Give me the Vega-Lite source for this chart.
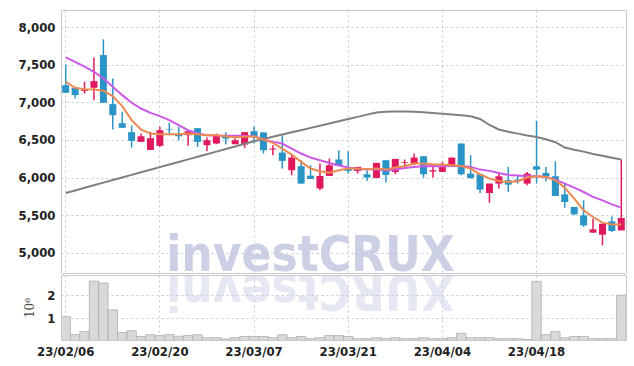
{
  "$schema": "https://vega.github.io/schema/vega-lite/v6.json",
  "padding": {"left": 17, "top": 9, "right": 8, "bottom": 5},
  "config": {
    "view": {"stroke": "#c8c8c8", "strokeWidth": 1},
    "concat": {"spacing": 0},
    "axis": {
      "labelFont": "DejaVu Sans Condensed",
      "labelFontWeight": "bold",
      "labelFontSize": 13,
      "labelColor": "#222222",
      "ticks": false,
      "domain": false,
      "gridColor": "#c3c7da",
      "gridDash": [2, 3],
      "gridWidth": 1
    }
  },
  "data": {
    "values": [
      {"d": "23/02/06", "o": 7230, "h": 7507, "l": 7128, "c": 7128, "m5": 7275, "m20": 7599, "m60": 5795, "v": 1.08},
      {"d": "23/02/07", "o": 7195, "h": 7200, "l": 7053, "c": 7097, "m5": 7195, "m20": 7541, "m60": 5829, "v": 0.31},
      {"d": "23/02/08", "o": 7155, "h": 7275, "l": 7119, "c": 7177, "m5": 7177, "m20": 7475, "m60": 5864, "v": 0.44},
      {"d": "23/02/09", "o": 7195, "h": 7599, "l": 7030, "c": 7284, "m5": 7173, "m20": 7408, "m60": 5898, "v": 2.6},
      {"d": "23/02/10", "o": 7630, "h": 7839, "l": 6995, "c": 6995, "m5": 7155, "m20": 7319, "m60": 5933, "v": 2.52},
      {"d": "23/02/13", "o": 6977, "h": 7319, "l": 6639, "c": 6830, "m5": 7084, "m20": 7208, "m60": 5967, "v": 1.37},
      {"d": "23/02/14", "o": 6724, "h": 6875, "l": 6662, "c": 6662, "m5": 6950, "m20": 7097, "m60": 6001, "v": 0.4},
      {"d": "23/02/15", "o": 6604, "h": 6693, "l": 6399, "c": 6488, "m5": 6764, "m20": 6995, "m60": 6036, "v": 0.48},
      {"d": "23/02/16", "o": 6475, "h": 6586, "l": 6475, "c": 6550, "m5": 6639, "m20": 6919, "m60": 6070, "v": 0.23},
      {"d": "23/02/17", "o": 6368, "h": 6608, "l": 6368, "c": 6524, "m5": 6586, "m20": 6861, "m60": 6105, "v": 0.31},
      {"d": "23/02/20", "o": 6422, "h": 6675, "l": 6408, "c": 6630, "m5": 6577, "m20": 6817, "m60": 6139, "v": 0.27},
      {"d": "23/02/21", "o": 6648, "h": 6728, "l": 6564, "c": 6640, "m5": 6577, "m20": 6764, "m60": 6173, "v": 0.31},
      {"d": "23/02/22", "o": 6577, "h": 6675, "l": 6497, "c": 6550, "m5": 6577, "m20": 6697, "m60": 6208, "v": 0.24},
      {"d": "23/02/23", "o": 6564, "h": 6617, "l": 6422, "c": 6617, "m5": 6586, "m20": 6630, "m60": 6242, "v": 0.27},
      {"d": "23/02/24", "o": 6657, "h": 6657, "l": 6408, "c": 6475, "m5": 6577, "m20": 6586, "m60": 6277, "v": 0.31},
      {"d": "23/02/27", "o": 6430, "h": 6533, "l": 6350, "c": 6497, "m5": 6564, "m20": 6564, "m60": 6311, "v": 0.18},
      {"d": "23/02/28", "o": 6453, "h": 6586, "l": 6444, "c": 6555, "m5": 6564, "m20": 6560, "m60": 6345, "v": 0.18},
      {"d": "23/03/02", "o": 6564, "h": 6604, "l": 6444, "c": 6519, "m5": 6550, "m20": 6558, "m60": 6380, "v": 0.13},
      {"d": "23/03/03", "o": 6444, "h": 6519, "l": 6444, "c": 6497, "m5": 6533, "m20": 6556, "m60": 6414, "v": 0.18},
      {"d": "23/03/06", "o": 6439, "h": 6604, "l": 6395, "c": 6604, "m5": 6542, "m20": 6553, "m60": 6449, "v": 0.23},
      {"d": "23/03/07", "o": 6617, "h": 6675, "l": 6453, "c": 6538, "m5": 6548, "m20": 6551, "m60": 6483, "v": 0.23},
      {"d": "23/03/08", "o": 6600, "h": 6600, "l": 6320, "c": 6364, "m5": 6506, "m20": 6506, "m60": 6513, "v": 0.23},
      {"d": "23/03/09", "o": 6373, "h": 6431, "l": 6297, "c": 6386, "m5": 6462, "m20": 6475, "m60": 6543, "v": 0.18},
      {"d": "23/03/10", "o": 6333, "h": 6564, "l": 6120, "c": 6222, "m5": 6386, "m20": 6453, "m60": 6572, "v": 0.31},
      {"d": "23/03/13", "o": 6097, "h": 6297, "l": 6031, "c": 6266, "m5": 6306, "m20": 6386, "m60": 6602, "v": 0.18},
      {"d": "23/03/14", "o": 6151, "h": 6231, "l": 5920, "c": 5920, "m5": 6209, "m20": 6320, "m60": 6631, "v": 0.23},
      {"d": "23/03/15", "o": 6026, "h": 6164, "l": 5982, "c": 5982, "m5": 6120, "m20": 6266, "m60": 6661, "v": 0.14},
      {"d": "23/03/16", "o": 5853, "h": 6186, "l": 5831, "c": 6022, "m5": 6084, "m20": 6231, "m60": 6690, "v": 0.18},
      {"d": "23/03/17", "o": 6022, "h": 6253, "l": 6022, "c": 6164, "m5": 6066, "m20": 6195, "m60": 6720, "v": 0.27},
      {"d": "23/03/20", "o": 6240, "h": 6364, "l": 6155, "c": 6155, "m5": 6097, "m20": 6160, "m60": 6749, "v": 0.27},
      {"d": "23/03/21", "o": 6120, "h": 6351, "l": 6053, "c": 6089, "m5": 6120, "m20": 6133, "m60": 6779, "v": 0.23},
      {"d": "23/03/22", "o": 6089, "h": 6142, "l": 6053, "c": 6142, "m5": 6120, "m20": 6115, "m60": 6808, "v": 0.14},
      {"d": "23/03/23", "o": 6044, "h": 6097, "l": 5955, "c": 6000, "m5": 6111, "m20": 6111, "m60": 6838, "v": 0.14},
      {"d": "23/03/24", "o": 5995, "h": 6195, "l": 5995, "c": 6195, "m5": 6120, "m20": 6106, "m60": 6867, "v": 0.18},
      {"d": "23/03/27", "o": 6231, "h": 6231, "l": 5933, "c": 6035, "m5": 6106, "m20": 6097, "m60": 6875, "v": 0.14},
      {"d": "23/03/28", "o": 6075, "h": 6248, "l": 6044, "c": 6248, "m5": 6133, "m20": 6106, "m60": 6878, "v": 0.18},
      {"d": "23/03/29", "o": 6195, "h": 6240, "l": 6151, "c": 6204, "m5": 6151, "m20": 6128, "m60": 6878, "v": 0.14},
      {"d": "23/03/30", "o": 6186, "h": 6320, "l": 6164, "c": 6266, "m5": 6186, "m20": 6142, "m60": 6876, "v": 0.14},
      {"d": "23/03/31", "o": 6284, "h": 6284, "l": 6000, "c": 6044, "m5": 6186, "m20": 6151, "m60": 6870, "v": 0.18},
      {"d": "23/04/03", "o": 6080, "h": 6142, "l": 6000, "c": 6097, "m5": 6177, "m20": 6155, "m60": 6860, "v": 0.14},
      {"d": "23/04/04", "o": 6075, "h": 6208, "l": 6075, "c": 6155, "m5": 6175, "m20": 6151, "m60": 6850, "v": 0.14},
      {"d": "23/04/05", "o": 6155, "h": 6266, "l": 6142, "c": 6266, "m5": 6165, "m20": 6153, "m60": 6840, "v": 0.18},
      {"d": "23/04/06", "o": 6453, "h": 6453, "l": 6031, "c": 6044, "m5": 6155, "m20": 6155, "m60": 6828, "v": 0.37},
      {"d": "23/04/07", "o": 6053, "h": 6297, "l": 5986, "c": 5995, "m5": 6120, "m20": 6142, "m60": 6815, "v": 0.18},
      {"d": "23/04/10", "o": 6044, "h": 6044, "l": 5795, "c": 5840, "m5": 6044, "m20": 6106, "m60": 6780, "v": 0.18},
      {"d": "23/04/11", "o": 5795, "h": 5920, "l": 5666, "c": 5920, "m5": 5986, "m20": 6089, "m60": 6700, "v": 0.18},
      {"d": "23/04/12", "o": 5920, "h": 6062, "l": 5853, "c": 6017, "m5": 5955, "m20": 6062, "m60": 6640, "v": 0.14},
      {"d": "23/04/13", "o": 5964, "h": 6142, "l": 5808, "c": 5906, "m5": 5942, "m20": 6035, "m60": 6610, "v": 0.14},
      {"d": "23/04/14", "o": 5973, "h": 6031, "l": 5920, "c": 5951, "m5": 5951, "m20": 6026, "m60": 6585, "v": 0.14},
      {"d": "23/04/17", "o": 5920, "h": 6075, "l": 5897, "c": 6053, "m5": 6000, "m20": 6017, "m60": 6560, "v": 0.1},
      {"d": "23/04/18", "o": 6151, "h": 6755, "l": 5920, "c": 6106, "m5": 6017, "m20": 6017, "m60": 6540, "v": 2.59},
      {"d": "23/04/19", "o": 6062, "h": 6142, "l": 5951, "c": 6017, "m5": 6009, "m20": 6009, "m60": 6510, "v": 0.31},
      {"d": "23/04/20", "o": 6017, "h": 6217, "l": 5755, "c": 5755, "m5": 5964, "m20": 5973, "m60": 6470, "v": 0.44},
      {"d": "23/04/21", "o": 5777, "h": 5928, "l": 5600, "c": 5675, "m5": 5866, "m20": 5920, "m60": 6400, "v": 0.17},
      {"d": "23/04/24", "o": 5609, "h": 5609, "l": 5497, "c": 5511, "m5": 5720, "m20": 5866, "m60": 6370, "v": 0.23},
      {"d": "23/04/25", "o": 5497, "h": 5697, "l": 5342, "c": 5364, "m5": 5564, "m20": 5808, "m60": 6345, "v": 0.23},
      {"d": "23/04/26", "o": 5267, "h": 5453, "l": 5267, "c": 5311, "m5": 5475, "m20": 5742, "m60": 6315, "v": 0.14},
      {"d": "23/04/27", "o": 5240, "h": 5386, "l": 5098, "c": 5386, "m5": 5400, "m20": 5697, "m60": 6290, "v": 0.14},
      {"d": "23/04/28", "o": 5417, "h": 5484, "l": 5275, "c": 5289, "m5": 5377, "m20": 5644, "m60": 6265, "v": 0.14},
      {"d": "23/05/02", "o": 5297, "h": 6240, "l": 5297, "c": 5462, "m5": 5377, "m20": 5600, "m60": 6240, "v": 2.0}
    ]
  },
  "vconcat": [
    {
      "width": 565,
      "height": 263,
      "encoding": {
        "x": {
          "field": "d",
          "type": "ordinal",
          "sort": null,
          "scale": {"paddingInner": 0, "paddingOuter": 0},
          "axis": {
            "title": null,
            "labels": false,
            "grid": true,
            "minExtent": 0,
            "maxExtent": 0,
            "bandPosition": 0.5,
            "values": ["23/02/06", "23/02/20", "23/03/07", "23/03/21", "23/04/04", "23/04/18"]
          }
        }
      },
      "layer": [
        {
          "mark": {"type": "rule", "strokeWidth": 1.5},
          "encoding": {
            "y": {
              "field": "l",
              "type": "quantitative",
              "scale": {"domain": [4730, 8230], "nice": false, "zero": false},
              "axis": {"title": null, "grid": true, "format": ",d", "values": [5000, 5500, 6000, 6500, 7000, 7500, 8000], "labelPadding": 6}
            },
            "y2": {"field": "h"},
            "color": {"condition": {"test": "datum.c >= datum.o", "value": "#e0195e"}, "value": "#2b94c6"}
          }
        },
        {
          "mark": {"type": "bar", "size": 7},
          "encoding": {
            "y": {"field": "o", "type": "quantitative"},
            "y2": {"field": "c"},
            "color": {"condition": {"test": "datum.c >= datum.o", "value": "#e0195e"}, "value": "#2b94c6"}
          }
        },
        {
          "mark": {"type": "line", "color": "#808080", "strokeWidth": 2},
          "encoding": {"y": {"field": "m60", "type": "quantitative"}}
        },
        {
          "mark": {"type": "line", "color": "#cc58e6", "strokeWidth": 2},
          "encoding": {"y": {"field": "m20", "type": "quantitative"}}
        },
        {
          "mark": {"type": "line", "color": "#ec8a50", "strokeWidth": 2},
          "encoding": {"y": {"field": "m5", "type": "quantitative"}}
        },
        {
          "transform": [{"filter": "datum.d == '23/03/15'"}],
          "mark": {"type": "text", "text": "investCRUX", "font": "DejaVu Sans Condensed", "fontWeight": "bold", "fontSize": 49, "color": "#c6cce3", "opacity": 0.9, "align": "center", "baseline": "alphabetic", "clip": true},
          "encoding": {
            "y": {"datum": 4755, "type": "quantitative"}
          }
        }
      ]
    },
    {
      "width": 565,
      "height": 65,
      "encoding": {
        "x": {
          "field": "d",
          "type": "ordinal",
          "sort": null,
          "scale": {"paddingInner": 0, "paddingOuter": 0},
          "axis": {
            "title": null,
            "labelAngle": 0,
            "labelPadding": 5,
            "grid": true,
            "bandPosition": 0.5,
            "values": ["23/02/06", "23/02/20", "23/03/07", "23/03/21", "23/04/04", "23/04/18"]
          }
        }
      },
      "layer": [
        {
          "mark": {"type": "bar", "fill": "#d9d9d9", "stroke": "#a9a9a9", "strokeWidth": 0.7, "clip": true},
          "encoding": {
            "y": {
              "field": "v",
              "type": "quantitative",
              "scale": {"domain": [0.08, 2.86], "nice": false, "zero": false},
              "axis": {"title": "10⁶", "titleFont": "DejaVu Serif", "titleFontWeight": "normal", "titleFontSize": 12, "titleColor": "#444444", "titlePadding": 10, "grid": true, "values": [1, 2], "format": "d", "labelPadding": 6}
            }
          }
        },
        {
          "transform": [{"filter": "datum.d == '23/03/15'"}],
          "mark": {"type": "text", "text": "XURCtsevni", "font": "DejaVu Sans Condensed", "fontWeight": "bold", "fontSize": 49, "color": "#c6cce3", "opacity": 0.45, "align": "center", "baseline": "alphabetic", "angle": 180, "clip": true},
          "encoding": {
            "y": {"datum": 2.84, "type": "quantitative"}
          }
        }
      ]
    }
  ]
}
